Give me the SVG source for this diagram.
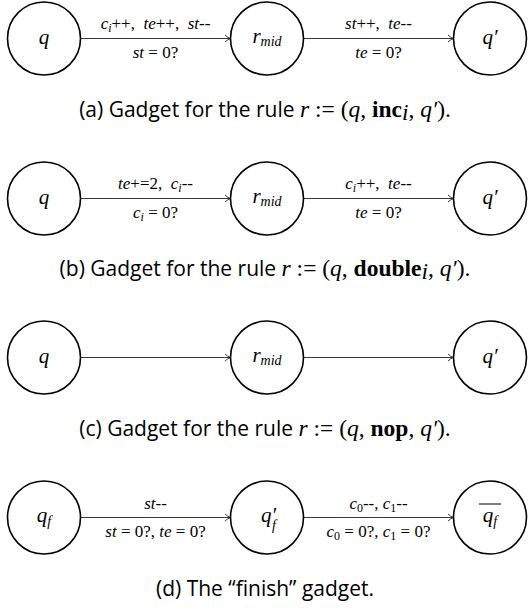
<svg xmlns="http://www.w3.org/2000/svg" width="529" height="608" viewBox="0 0 529 608">
<style>
text{white-space:pre}
.n{fill:#fff;stroke:#000;stroke-width:1.6}
.e{stroke:#3a3a3a;stroke-width:1;fill:none}
.m{font-family:"Liberation Serif",serif;font-style:italic;fill:#000}
.nl{font-size:21px}
.el{font-size:17px}
.u{font-style:normal}
.cap{font-family:"Open Sans",sans-serif;font-size:21px;fill:#000}
.ms{font-family:"Liberation Serif",serif;font-size:23.5px}
</style>
<defs>
<marker id="ar" viewBox="0 0 10 10" refX="9.5" refY="5" markerWidth="10" markerHeight="10" markerUnits="userSpaceOnUse" orient="auto">
<path d="M4,1.5 Q6.5,4 9.5,5 Q6.5,6 4,8.5" fill="none" stroke="#3a3a3a" stroke-width="1"/>
</marker>
</defs>
<g id="edges">
<line class="e" x1="80.5" y1="38.5" x2="230.5" y2="38.5" marker-end="url(#ar)"/>
<line class="e" x1="303.5" y1="38.5" x2="453.5" y2="38.5" marker-end="url(#ar)"/>
<line class="e" x1="80.5" y1="198.5" x2="230.5" y2="198.5" marker-end="url(#ar)"/>
<line class="e" x1="303.5" y1="198.5" x2="453.5" y2="198.5" marker-end="url(#ar)"/>
<line class="e" x1="80.5" y1="357.5" x2="230.5" y2="357.5" marker-end="url(#ar)"/>
<line class="e" x1="303.5" y1="357.5" x2="453.5" y2="357.5" marker-end="url(#ar)"/>
<line class="e" x1="80.5" y1="517.5" x2="230.5" y2="517.5" marker-end="url(#ar)"/>
<line class="e" x1="303.5" y1="517.5" x2="453.5" y2="517.5" marker-end="url(#ar)"/>
</g>
<g id="edge-labels">
<text class="m el" x="155.5" y="29" text-anchor="middle">c<tspan font-size="12" dy="3">i</tspan><tspan class="u" dy="-3">++,  </tspan>te<tspan class="u">++,  </tspan>st<tspan class="u">--</tspan></text>
<text class="m el" x="155.5" y="58" text-anchor="middle">st <tspan class="u">= 0?</tspan></text>
<text class="m el" x="378.5" y="29" text-anchor="middle">st<tspan class="u">++,  </tspan>te<tspan class="u">--</tspan></text>
<text class="m el" x="378.5" y="58" text-anchor="middle">te <tspan class="u">= 0?</tspan></text>
<text class="m el" x="155.5" y="189" text-anchor="middle">te<tspan class="u">+=2,  </tspan>c<tspan font-size="12" dy="3">i</tspan><tspan class="u" dy="-3">--</tspan></text>
<text class="m el" x="155.5" y="218" text-anchor="middle">c<tspan font-size="12" dy="3">i</tspan><tspan class="u" dy="-3"> = 0?</tspan></text>
<text class="m el" x="378.5" y="189" text-anchor="middle">c<tspan font-size="12" dy="3">i</tspan><tspan class="u" dy="-3">++,  </tspan>te<tspan class="u">--</tspan></text>
<text class="m el" x="378.5" y="218" text-anchor="middle">te <tspan class="u">= 0?</tspan></text>
<text class="m el" x="155.5" y="509" text-anchor="middle">st<tspan class="u">--</tspan></text>
<text class="m el" x="155.5" y="537" text-anchor="middle">st <tspan class="u">= 0?, </tspan>te <tspan class="u">= 0?</tspan></text>
<text class="m el" x="378.5" y="509" text-anchor="middle">c<tspan class="u" font-size="12" dy="3">0</tspan><tspan class="u" dy="-3">--, </tspan>c<tspan class="u" font-size="12" dy="3">1</tspan><tspan class="u" dy="-3">--</tspan></text>
<text class="m el" x="378.5" y="537" text-anchor="middle">c<tspan class="u" font-size="12" dy="3">0</tspan><tspan class="u" dy="-3"> = 0?, </tspan>c<tspan class="u" font-size="12" dy="3">1</tspan><tspan class="u" dy="-3"> = 0?</tspan></text>
</g>
<g id="a-q"><circle class="n" cx="44" cy="38.5" r="36.5"/><text class="m nl" x="44" y="44" text-anchor="middle">q</text></g>
<g id="a-rmid"><circle class="n" cx="267" cy="38.5" r="36.5"/><text class="m nl" x="267" y="43" text-anchor="middle">r<tspan font-size="14" dy="3">mid</tspan></text></g>
<g id="a-q2"><circle class="n" cx="490" cy="38.5" r="36.5"/><text class="m nl" x="490" y="44" text-anchor="middle">q′</text></g>
<g id="b-q"><circle class="n" cx="44" cy="198.5" r="36.5"/><text class="m nl" x="44" y="204" text-anchor="middle">q</text></g>
<g id="b-rmid"><circle class="n" cx="267" cy="198.5" r="36.5"/><text class="m nl" x="267" y="203" text-anchor="middle">r<tspan font-size="14" dy="3">mid</tspan></text></g>
<g id="b-q2"><circle class="n" cx="490" cy="198.5" r="36.5"/><text class="m nl" x="490" y="204" text-anchor="middle">q′</text></g>
<g id="c-q"><circle class="n" cx="44" cy="357.5" r="36.5"/><text class="m nl" x="44" y="363" text-anchor="middle">q</text></g>
<g id="c-rmid"><circle class="n" cx="267" cy="357.5" r="36.5"/><text class="m nl" x="267" y="362" text-anchor="middle">r<tspan font-size="14" dy="3">mid</tspan></text></g>
<g id="c-q2"><circle class="n" cx="490" cy="357.5" r="36.5"/><text class="m nl" x="490" y="363" text-anchor="middle">q′</text></g>
<g id="d-qf"><circle class="n" cx="44" cy="517.5" r="36.5"/><text class="m nl" x="44" y="522" text-anchor="middle">q<tspan font-size="14" dy="4">f</tspan></text></g>
<g id="d-qf2"><circle class="n" cx="267" cy="517.5" r="36.5"/><text class="m nl" x="261" y="522">q′</text><text class="m" font-size="14" x="272" y="530">f</text></g>
<g id="d-qfbar"><circle class="n" cx="490" cy="517.5" r="36.5"/><text class="m nl" x="490" y="522" text-anchor="middle">q<tspan font-size="14" dy="4">f</tspan></text><line x1="479" y1="504" x2="501" y2="504" stroke="#000" stroke-width="1"/></g>
<g id="captions">
<text class="cap" x="265" y="117" text-anchor="middle">(a) Gadget for the rule <tspan class="ms" font-style="italic">r</tspan><tspan class="ms"> := (</tspan><tspan class="ms" font-style="italic">q</tspan><tspan class="ms">, </tspan><tspan class="ms" font-weight="bold">inc</tspan><tspan class="ms" font-style="italic" font-size="16" dy="3">i</tspan><tspan class="ms" dy="-3">, </tspan><tspan class="ms" font-style="italic">q′</tspan><tspan class="ms">).</tspan></text>
<text class="cap" x="265" y="276" text-anchor="middle">(b) Gadget for the rule <tspan class="ms" font-style="italic">r</tspan><tspan class="ms"> := (</tspan><tspan class="ms" font-style="italic">q</tspan><tspan class="ms">, </tspan><tspan class="ms" font-weight="bold">double</tspan><tspan class="ms" font-style="italic" font-size="16" dy="3">i</tspan><tspan class="ms" dy="-3">, </tspan><tspan class="ms" font-style="italic">q′</tspan><tspan class="ms">).</tspan></text>
<text class="cap" x="265" y="436" text-anchor="middle">(c) Gadget for the rule <tspan class="ms" font-style="italic">r</tspan><tspan class="ms"> := (</tspan><tspan class="ms" font-style="italic">q</tspan><tspan class="ms">, </tspan><tspan class="ms" font-weight="bold">nop</tspan><tspan class="ms">, </tspan><tspan class="ms" font-style="italic">q′</tspan><tspan class="ms">).</tspan></text>
<text class="cap" x="265" y="596" text-anchor="middle">(d) The “finish” gadget.</text>
</g>
</svg>
